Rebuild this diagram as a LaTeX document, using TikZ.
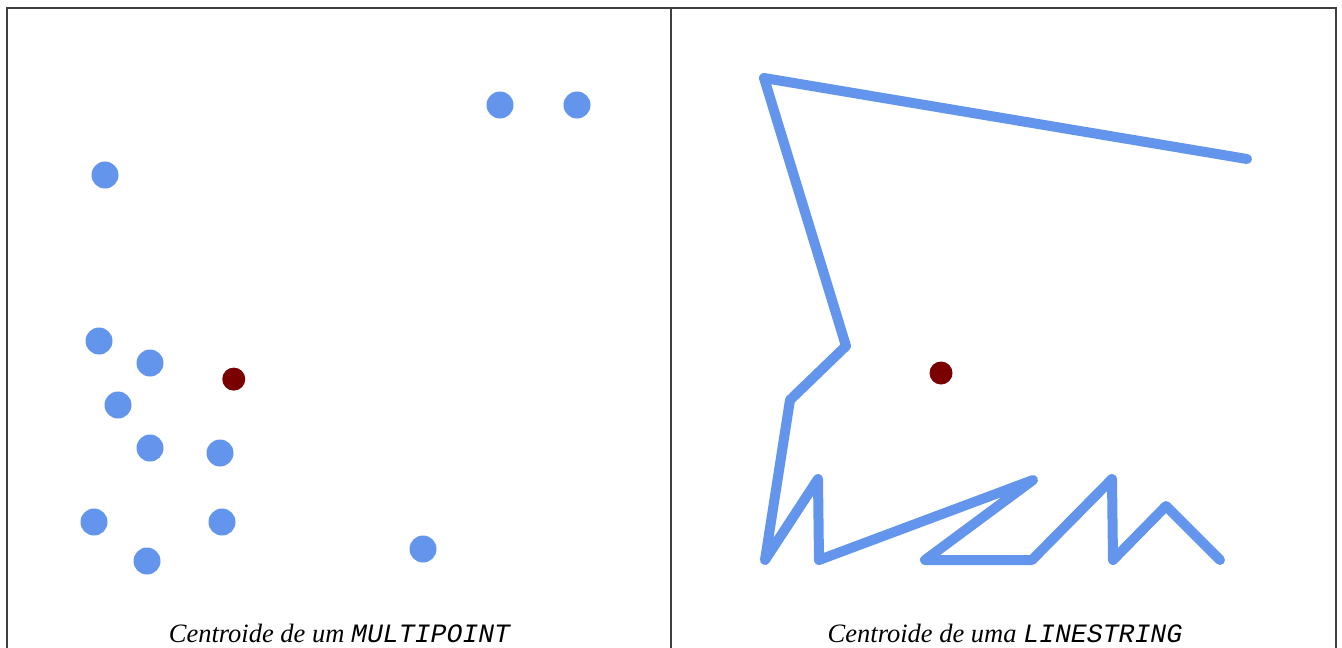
\documentclass[tikz,border=0pt]{standalone}
\usepackage{fontspec}
\setmainfont{Liberation Serif}
\setmonofont{Liberation Mono}
\usepackage{tikz}
\definecolor{ptblue}{RGB}{100,149,237}
\definecolor{ctred}{RGB}{122,0,0}

\begin{document}
\begin{tikzpicture}[x=1pt,y=-1pt,every node/.style={font=\fontsize{26.5}{30}\selectfont},
  pt/.style={circle,fill=ptblue,inner sep=0pt,minimum size=27pt},
  ctr/.style={circle,fill=ctred,inner sep=0pt,minimum size=23pt},
  frame/.style={draw=black!75,line width=1.6pt}]
  \clip (0,0) rectangle (1342,648);
  \fill[white] (0,0) rectangle (1342,648);
  % panels
  \draw[frame] (7,8) rectangle (671,670);
  \draw[frame] (671,8) rectangle (1336,670);
  % multipoint
  \foreach \x/\y [count=\i] in {500/105,577/105,105/175,99/341,150/363,118/405,
    150/448,220/453,94/522,222/522,147/561,423/549}
    \node[pt] (p\i) at (\x,\y) {};
  \node[ctr] (c1) at (233.75,379.1) {};
  \node (cap1) at (340,633) {\textit{Centroide de um} \texttt{\itshape MULTIPOINT}};
  % linestring
  \draw[ptblue,line width=10pt,line join=round,line cap=round]
    (1247,159) -- (764,78) -- (846,346) -- (790,400) -- (765,560) -- (818,479)
    -- (819,560) -- (1033,480) -- (925,560) -- (1032,560) -- (1112,479)
    -- (1113,560) -- (1166,506) -- (1220,560);
  \node[ctr] (c2) at (941,373) {};
  \node (cap2) at (1005,633) {\textit{Centroide de uma} \texttt{\itshape LINESTRING}};
\end{tikzpicture}
\end{document}
